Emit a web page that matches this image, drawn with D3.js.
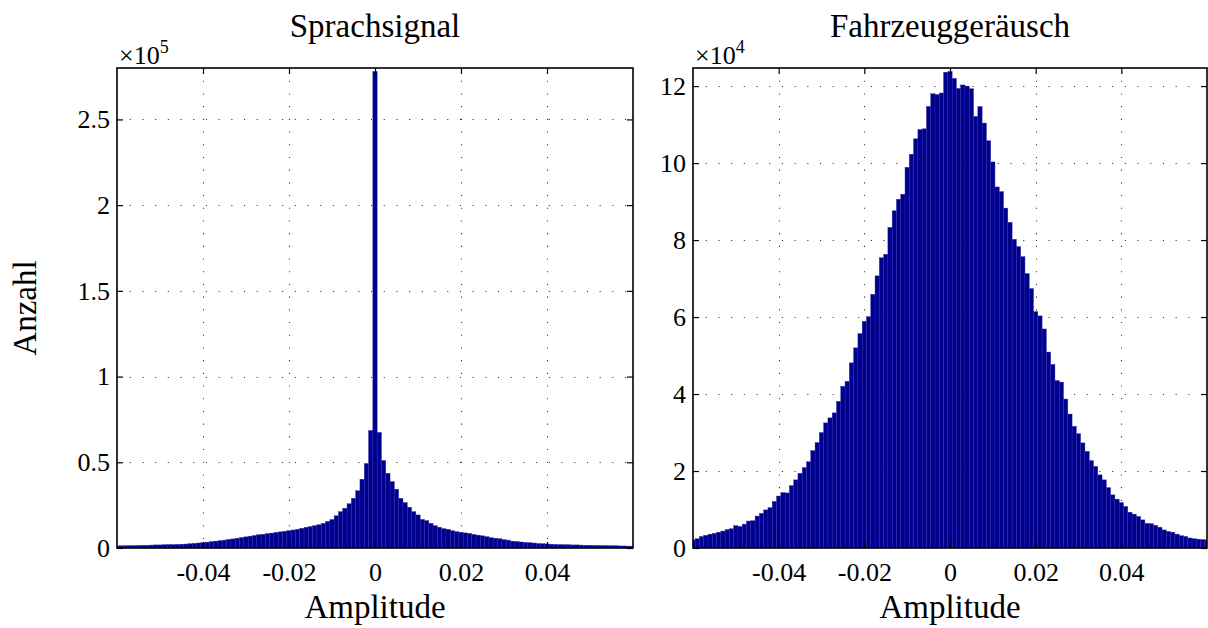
<!DOCTYPE html>
<html>
<head>
<meta charset="utf-8">
<script src="https://cdn.jsdelivr.net/npm/d3@7"></script>
<style>
  html, body { margin: 0; padding: 0; background: #fff; }
  svg { display: block; }
  text { font-family: "Liberation Serif", "DejaVu Serif", serif; fill: #000; }
</style>
</head>
<body>
<svg id="chart" width="1208" height="628"></svg>
<script>
// ---------------- data ----------------
// amplitude bin centres (bin width 0.001), from -0.060 to 0.060
const binCenters = d3.range(-60, 61).map(k => k / 1000);

// Sprachsignal counts, in units of 1e5
const speechCounts = [
  0.012, 0.013, 0.013, 0.014, 0.014, 0.015, 0.016, 0.016, 0.017, 0.018,
  0.018, 0.019, 0.020, 0.020, 0.021, 0.022, 0.023, 0.025, 0.027, 0.029,
  0.031, 0.034, 0.037, 0.040, 0.043, 0.046, 0.050, 0.053, 0.057, 0.061,
  0.065, 0.069, 0.073, 0.077, 0.080, 0.084, 0.087, 0.091, 0.094, 0.098,
  0.101, 0.105, 0.109, 0.115, 0.121, 0.125, 0.130, 0.136, 0.144, 0.155,
  0.166, 0.188, 0.212, 0.232, 0.258, 0.290, 0.334, 0.401, 0.493, 0.685,
  2.78,
  0.674, 0.510, 0.436, 0.387, 0.343, 0.290, 0.265, 0.238, 0.212, 0.193,
  0.167, 0.160, 0.144, 0.130, 0.121, 0.113, 0.109, 0.101, 0.095, 0.092,
  0.088, 0.085, 0.079, 0.075, 0.071, 0.066, 0.060, 0.057, 0.054, 0.049,
  0.046, 0.040, 0.038, 0.035, 0.032, 0.031, 0.029, 0.026, 0.025, 0.024,
  0.022, 0.021, 0.020, 0.019, 0.019, 0.018, 0.018, 0.017, 0.016, 0.016,
  0.015, 0.015, 0.014, 0.014, 0.013, 0.013, 0.012, 0.012, 0.011, 0.011
];

// Fahrzeuggeräusch counts, in units of 1e4
const noiseCounts = [
  0.21, 0.24, 0.30, 0.33, 0.36, 0.38, 0.41, 0.44, 0.48, 0.50,
  0.58, 0.56, 0.62, 0.70, 0.71, 0.83, 0.90, 0.99, 1.05, 1.21,
  1.35, 1.44, 1.43, 1.62, 1.77, 1.94, 2.09, 2.24, 2.53, 2.74,
  3.00, 3.25, 3.38, 3.51, 3.81, 4.20, 4.33, 4.81, 5.20, 5.57,
  5.89, 6.01, 6.59, 7.07, 7.54, 7.63, 8.33, 8.76, 9.06, 9.19,
  9.89, 10.23, 10.63, 10.87, 10.89, 11.47, 11.80, 11.78, 11.82, 12.36,
  12.38,
  12.20, 11.94, 12.03, 12.00, 11.93, 11.21, 11.47, 11.04, 10.58, 10.03,
  9.38, 9.26, 8.83, 8.46, 8.02, 7.83, 7.57, 7.13, 6.74, 6.14,
  6.03, 5.69, 5.09, 4.77, 4.35, 4.31, 3.87, 3.48, 3.16, 2.97,
  2.73, 2.51, 2.27, 2.12, 1.90, 1.77, 1.57, 1.38, 1.27, 1.18,
  1.08, 0.93, 0.88, 0.82, 0.73, 0.64, 0.63, 0.59, 0.54, 0.47,
  0.43, 0.41, 0.36, 0.32, 0.30, 0.26, 0.24, 0.23, 0.22, 0.21
];

const xTickValues = [-0.04, -0.02, 0, 0.02, 0.04];
const xTickLabels = ["-0.04", "-0.02", "0", "0.02", "0.04"];
const speechYTicks = [0, 0.5, 1, 1.5, 2, 2.5];
const speechYLabels = ["0", "0.5", "1", "1.5", "2", "2.5"];
const noiseYTicks = [0, 2, 4, 6, 8, 10, 12];
const noiseYLabels = ["0", "2", "4", "6", "8", "10", "12"];

const titles = ["Sprachsignal", "Fahrzeuggeräusch"];
const xLabel = "Amplitude";
const yLabel = "Anzahl";
const exponents = ["5", "4"];

// ---------------- drawing ----------------
const svg = d3.select("#chart");
const BAR = "#00008f";
const BAR_EDGE = "#2a2aa6";
const TICK_FS = 26;
const LABEL_FS = 33;

function panel(cfg, idx) {
  const x = d3.scaleLinear().domain([-0.06, 0.06]).range([cfg.left, cfg.right]);
  const y = d3.scaleLinear().domain([0, cfg.ymax]).range([cfg.bottom, cfg.top]);
  const g = svg.append("g");

  const clipId = "clip" + idx;
  g.append("clipPath").attr("id", clipId)
    .append("rect")
    .attr("x", cfg.left).attr("y", cfg.top)
    .attr("width", cfg.right - cfg.left).attr("height", cfg.bottom - cfg.top);

  // grid
  const grid = g.append("g").attr("stroke", "#333").attr("stroke-width", 1.1)
    .attr("stroke-dasharray", "1.1,11.6");
  grid.selectAll(".gx").data(xTickValues).join("line")
    .attr("x1", d => Math.round(x(d)) + 0.5).attr("x2", d => Math.round(x(d)) + 0.5)
    .attr("y1", cfg.top).attr("y2", cfg.bottom);
  grid.selectAll(".gy").data(cfg.yTicks.filter(v => v > 0)).join("line")
    .attr("x1", cfg.left).attr("x2", cfg.right)
    .attr("y1", d => Math.round(y(d)) + 0.5).attr("y2", d => Math.round(y(d)) + 0.5);

  // bars
  const bw = 0.001;
  g.append("g").attr("clip-path", `url(#${clipId})`)
    .selectAll("rect").data(cfg.values).join("rect")
    .attr("x", (d, i) => x(binCenters[i] - bw / 2))
    .attr("width", (d, i) => x(binCenters[i] + bw / 2) - x(binCenters[i] - bw / 2))
    .attr("y", d => y(d))
    .attr("height", d => cfg.bottom - y(d))
    .attr("fill", BAR)
    .attr("stroke", BAR_EDGE)
    .attr("stroke-width", 0.4);

  // axes
  const axB = d3.axisBottom(x).tickValues(xTickValues)
    .tickFormat((d, i) => xTickLabels[i]).tickSizeInner(-6).tickSizeOuter(0).tickPadding(15);
  const axT = d3.axisTop(x).tickValues(xTickValues).tickFormat("").tickSizeInner(-6).tickSizeOuter(0);
  const axL = d3.axisLeft(y).tickValues(cfg.yTicks)
    .tickFormat((d, i) => cfg.yLabels[i]).tickSizeInner(-6).tickSizeOuter(0).tickPadding(7);
  const axR = d3.axisRight(y).tickValues(cfg.yTicks).tickFormat("").tickSizeInner(-6).tickSizeOuter(0);

  [[axB, `translate(0,${cfg.bottom})`], [axT, `translate(0,${cfg.top})`],
   [axL, `translate(${cfg.left},0)`], [axR, `translate(${cfg.right},0)`]].forEach(([ax, tr]) => {
    const a = g.append("g").attr("transform", tr).call(ax);
    a.select(".domain").remove();
    a.attr("font-size", null).attr("font-family", null);
    a.selectAll("line").attr("stroke", "#000").attr("stroke-width", 1.2);
    a.selectAll("text").style("font-size", TICK_FS + "px")
      .style("font-family", '"Liberation Serif", serif');
  });

  // box
  g.append("rect")
    .attr("x", cfg.left).attr("y", cfg.top)
    .attr("width", cfg.right - cfg.left).attr("height", cfg.bottom - cfg.top)
    .attr("fill", "none").attr("stroke", "#000").attr("stroke-width", 1.6);

  // exponent label
  const ex = g.append("text")
    .attr("x", cfg.left + 2).attr("y", cfg.top - 4)
    .style("font-size", "26px");
  ex.append("tspan").text("×10");
  ex.append("tspan").text(cfg.exp).attr("dy", -11).style("font-size", "18px");

  // title
  g.append("text")
    .attr("x", (cfg.left + cfg.right) / 2).attr("y", 37)
    .attr("text-anchor", "middle").style("font-size", LABEL_FS + "px")
    .text(cfg.title);

  // x label
  g.append("text")
    .attr("x", (cfg.left + cfg.right) / 2).attr("y", 618)
    .attr("text-anchor", "middle").style("font-size", LABEL_FS + "px")
    .text(xLabel);
}

panel({ left: 117, right: 633, top: 68, bottom: 548, ymax: 2.8,
        values: speechCounts, yTicks: speechYTicks, yLabels: speechYLabels,
        exp: exponents[0], title: titles[0] }, 0);
panel({ left: 693, right: 1207, top: 68, bottom: 548, ymax: 12.47,
        values: noiseCounts, yTicks: noiseYTicks, yLabels: noiseYLabels,
        exp: exponents[1], title: titles[1] }, 1);

svg.append("text")
  .attr("transform", "translate(36,308) rotate(-90)")
  .attr("text-anchor", "middle").style("font-size", LABEL_FS + "px")
  .text(yLabel);
</script>
</body>
</html>
